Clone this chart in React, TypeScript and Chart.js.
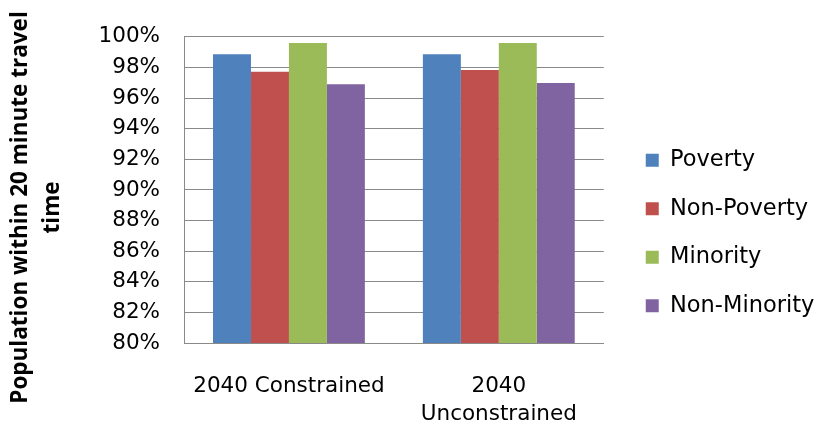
import React, { useEffect, useRef } from 'react';
import { Chart, registerables } from 'chart.js';

Chart.register(...registerables);

const categories: (string | string[])[] = ['2040 Constrained', ['2040', 'Unconstrained']];
const seriesNames = ['Poverty', 'Non-Poverty', 'Minority', 'Non-Minority'];
const poverty = [98.87, 98.87];
const nonPoverty = [97.72, 97.83];
const minority = [99.6, 99.6];
const nonMinority = [96.9, 96.98];
const seriesColors = ['#4F81BD', '#C0504D', '#9BBB59', '#8064A2'];
const yMin = 80;
const yMax = 100;
const yStep = 2;
const yTitleLines = ['Population within 20 minute travel', 'time'];

const legendShift = {
  id: 'legendShift',
  afterLayout(chart: any) {
    const lg = chart.legend;
    if (!lg) return;
    lg.left += 16;
    lg.right += 16;
    lg.top += 3;
    lg.bottom += 3;
  },
};

export default function App() {
  const ref = useRef<HTMLCanvasElement | null>(null);

  useEffect(() => {
    if (!ref.current) return;
    const values = [poverty, nonPoverty, minority, nonMinority];
    const chart = new Chart(ref.current, {
      type: 'bar',
      data: {
        labels: categories,
        datasets: seriesNames.map((name, i) => ({
          label: name,
          data: values[i],
          backgroundColor: seriesColors[i],
          borderWidth: 0,
          barPercentage: 1,
          categoryPercentage: 0.7236,
        })),
      },
      options: {
        responsive: false,
        animation: false,
        layout: { padding: { top: 35, right: 17, bottom: 0, left: 0 } },
        plugins: {
          tooltip: { enabled: false },
          legend: {
            position: 'right',
            labels: {
              boxWidth: 13,
              boxHeight: 13,
              padding: 26,
              color: '#000',
              font: { family: 'DejaVu Sans', size: 22.5 },
            },
          },
        },
        scales: {
          x: {
            grid: { display: false, drawTicks: false },
            border: { color: '#8a8a8a' },
            ticks: {
              padding: 29,
              color: '#000',
              maxRotation: 0,
              autoSkip: false,
              font: { family: 'DejaVu Sans', size: 21.5, lineHeight: 1.33 },
            },
            afterFit: (s: any) => {
              s.height = 82;
            },
          },
          y: {
            min: yMin,
            max: yMax,
            ticks: {
              stepSize: yStep,
              padding: 24,
              color: '#000',
              font: { family: 'DejaVu Sans', size: 21.5 },
              callback: (v: any) => v + '%',
            },
            grid: { color: '#8a8a8a', drawTicks: false, lineWidth: 1 },
            border: { color: '#8a8a8a' },
            title: {
              display: true,
              text: yTitleLines.map((l) => l + '      '),
              color: '#000',
              font: { family: 'Open Sans', weight: 'bold', size: 22.5, lineHeight: 1.44 },
              padding: { top: 4, bottom: 0 },
            },
            afterFit: (s: any) => {
              s.width = 184;
            },
          },
        },
      },
      plugins: [legendShift],
    });
    return () => chart.destroy();
  }, []);

  return (
    <div style={{ position: 'fixed', left: 0, top: 0, width: 822, height: 425, background: '#fff' }}>
      <canvas ref={ref} width={822} height={425} style={{ display: 'block' }} />
    </div>
  );
}
